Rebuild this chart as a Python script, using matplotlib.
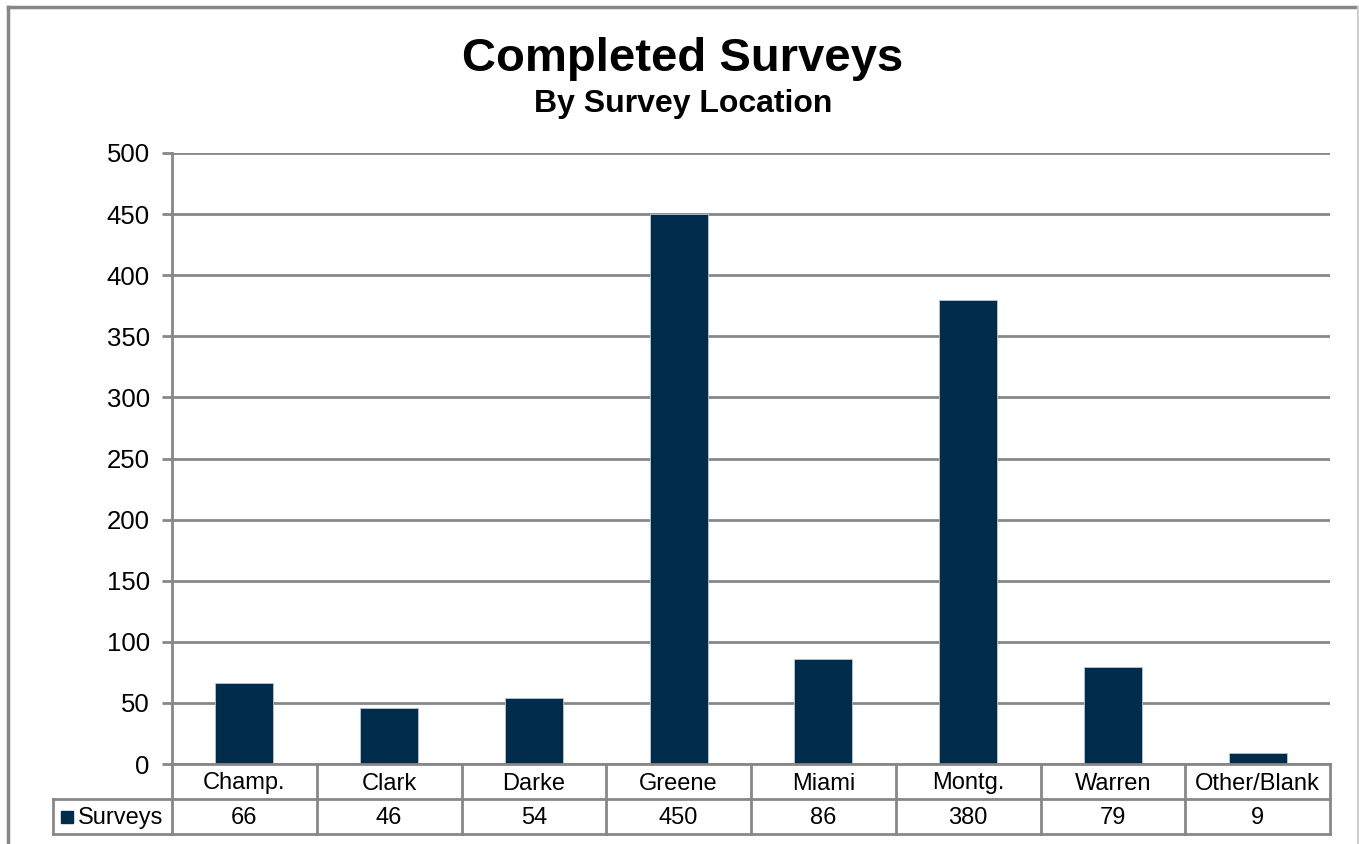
import matplotlib
matplotlib.use("Agg")
import matplotlib.pyplot as plt
from matplotlib.lines import Line2D
from matplotlib.patches import Rectangle

plt.rcParams['font.family'] = ['Liberation Sans', 'DejaVu Sans']

# survey counts per location
locations = ['Champ.', 'Clark', 'Darke', 'Greene', 'Miami', 'Montg.', 'Warren', 'Other/Blank']
surveys = [66, 46, 54, 450, 86, 380, 79, 9]
series_name = 'Surveys'
yticks = [0, 50, 100, 150, 200, 250, 300, 350, 400, 450, 500]

W, H = 1359, 844
navy = '#012b4a'
grid_c = '#878787'


def fx(px):
    return px / W


def fy(py):
    return 1 - py / H


fig = plt.figure(figsize=(W / 100, H / 100), dpi=100)

# plot area
left, right, top, bottom = 172, 1330, 153, 764
ax = fig.add_axes([fx(left), fy(bottom), fx(right - left), (bottom - top) / H])

x = list(range(len(locations)))
ax.bar(x, surveys, width=0.4, color=navy, edgecolor='#b8c7d6', linewidth=0.6, zorder=3)
ax.set_xlim(-0.5, len(locations) - 0.5)
ax.set_ylim(0, 500)
ax.set_yticks(yticks)
ax.set_yticklabels([str(v) for v in yticks], fontsize=18.5)
ax.set_xticks([])
ax.yaxis.grid(True, color=grid_c, linewidth=2, zorder=1)
ax.tick_params(axis='y', length=7, width=2, color=grid_c, pad=9)
for s in ['top', 'right', 'bottom']:
    ax.spines[s].set_visible(False)
ax.spines['left'].set_color(grid_c)
ax.spines['left'].set_linewidth(2)

# data table below the plot
row_h = 35 / (bottom - top)
nudge = 2 / (bottom - top)
line_kw = dict(color=grid_c, linewidth=2, transform=ax.transAxes, clip_on=False, zorder=4)
ax.add_line(Line2D([0, 1], [0, 0], **line_kw))
ax.add_line(Line2D([(53 - left) / (right - left), 1], [-row_h, -row_h], **line_kw))
ax.add_line(Line2D([(53 - left) / (right - left), 1], [-2 * row_h, -2 * row_h], **line_kw))
ax.add_line(Line2D([(53 - left) / (right - left)] * 2, [-row_h, -2 * row_h], **line_kw))
n = len(locations)
for i in range(n + 1):
    ax.add_line(Line2D([i / n, i / n], [0, -2 * row_h], **line_kw))
for i, (loc, val) in enumerate(zip(locations, surveys)):
    ax.text((i + 0.5) / n, -0.5 * row_h - nudge, loc, transform=ax.transAxes,
            ha='center', va='center', fontsize=17)
    ax.text((i + 0.5) / n, -1.5 * row_h - nudge, str(val), transform=ax.transAxes,
            ha='center', va='center', fontsize=17)

# legend key inside the table
fig.add_artist(Rectangle((fx(61), fy(823)), 12 / W, 12 / H, color=navy, transform=fig.transFigure))
fig.text(fx(78), fy(818), series_name, ha='left', va='center', fontsize=17)

# titles
fig.text(fx(683), fy(71), 'Completed Surveys', ha='center', va='baseline',
         fontsize=34, fontweight='bold')
fig.text(fx(683), fy(112), 'By Survey Location', ha='center', va='baseline',
         fontsize=23, fontweight='bold')

# chart frame
fig.add_artist(Line2D([fx(8), fx(8)], [fy(7), 0], color=grid_c, linewidth=2.5, transform=fig.transFigure))
fig.add_artist(Line2D([fx(8), 1], [fy(7), fy(7)], color=grid_c, linewidth=2.5, transform=fig.transFigure))
fig.add_artist(Line2D([fx(1358), fx(1358)], [fy(7), 0], color='#cfcfcf', linewidth=1.5, transform=fig.transFigure))

fig.savefig('out.png', dpi=100)
